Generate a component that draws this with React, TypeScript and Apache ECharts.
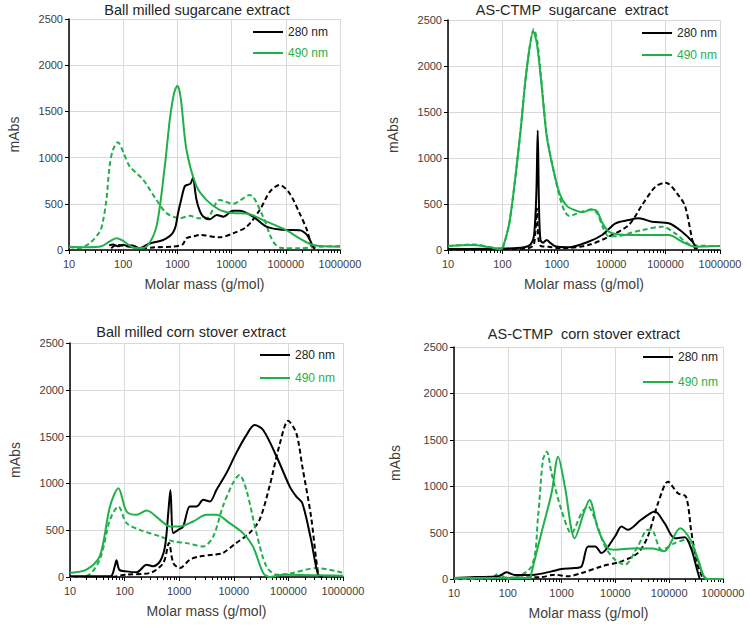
import React, { useEffect, useRef } from 'react';
import * as echarts from 'echarts';

const FONT = '"Liberation Sans", Arial, sans-serif';
const GREEN = '#1fb04b';
const BLACK = '#000000';
const TICK_COLOR = '#404040';
const GRID_COLOR = '#d9d9d9';

const panelTitles = [
  'Ball milled sugarcane extract',
  'AS-CTMP  sugarcane  extract',
  'Ball milled corn stover extract',
  'AS-CTMP  corn stover extract',
];
const legendNames = ['280 nm', '490 nm'];
const xMin = 10;
const xMax = 1000000;
const yMin = 0;
const yMax = 2500;
const yStep = 500;
const xName = 'Molar mass (g/mol)';
const yName = 'mAbs';

// Panel 1: Ball milled sugarcane extract  ([molar mass, mAbs])
const bmSc280Solid = [[55, 50], [65, 60], [80, 40], [100, 58], [114, 45], [150, 50], [200, 18], [250, 45], [310, 70], [545, 108], [720, 150], [830, 190], [930, 260], [1030, 400], [1190, 560], [1370, 690], [1570, 707], [1750, 720], [1950, 785], [2100, 660], [2250, 543], [2600, 420], [3000, 361], [3950, 332], [5300, 380], [7000, 361], [10600, 426], [14000, 426], [25000, 361], [44000, 253], [100000, 217], [180000, 215], [245000, 163], [320000, 36], [340000, 8]];
const bmSc280Dash = [[60, 20], [75, 54], [130, 36], [200, 18], [400, 30], [830, 36], [1250, 60], [1460, 127], [2100, 152], [2600, 163], [6000, 137], [10600, 180], [19000, 253], [33000, 433], [51000, 632], [77000, 705], [117000, 614], [180000, 397], [245000, 217], [300000, 36], [320000, 5]];
const bmSc490Solid = [[10, 35], [20, 30], [40, 40], [55, 90], [75, 128], [100, 100], [152, 25], [200, 20], [270, 36], [410, 253], [585, 905], [725, 1413], [870, 1700], [1000, 1777], [1150, 1650], [1470, 1085], [2250, 690], [3450, 540], [6000, 435], [10600, 400], [19000, 395], [44000, 307], [100000, 217], [180000, 126], [320000, 54], [1000000, 36]];
const bmSc490Dash = [[10, 35], [15, 20], [24, 72], [37, 199], [42, 300], [49, 543], [56, 905], [65, 1087], [80, 1166], [100, 1060], [132, 905], [233, 761], [410, 543], [630, 399], [1110, 344], [1700, 370], [2400, 344], [3450, 343], [6000, 542], [10600, 500], [21500, 596], [38000, 361], [52000, 150], [62000, 70], [80000, 25], [180000, 18], [440000, 36], [1000000, 43]];

// Panel 2: AS-CTMP sugarcane extract
const asSc280Solid = [[10, 10], [100, 15], [250, 30], [330, 60], [380, 150], [420, 600], [446, 1300], [470, 500], [500, 110], [560, 80], [650, 110], [750, 80], [935, 40], [1650, 30], [3800, 90], [6800, 163], [12000, 290], [21000, 326], [32000, 344], [56000, 308], [115000, 290], [200000, 199], [310000, 90], [380000, 7]];
const asSc280Dash = [[10, 5], [100, 10], [300, 20], [380, 60], [430, 450], [460, 120], [520, 40], [700, 36], [1240, 18], [3800, 54], [9000, 145], [21000, 272], [37000, 489], [65000, 688], [100000, 732], [180000, 580], [230000, 471], [310000, 108], [350000, 7]];
const asSc490Solid = [[10, 43], [30, 54], [60, 29], [90, 7], [103, 36], [137, 326], [210, 1232], [279, 1957], [371, 2373], [430, 2246], [528, 1775], [654, 1232], [867, 870], [1150, 600], [1530, 480], [2200, 430], [3000, 410], [4300, 440], [5500, 420], [6800, 300], [9000, 200], [12000, 175], [21000, 163], [115000, 163], [200000, 90], [350000, 36], [1000000, 43]];
const asSc490Dash = [[10, 43], [30, 60], [60, 29], [90, 7], [103, 36], [137, 326], [210, 1232], [279, 1957], [380, 2400], [440, 2260], [528, 1800], [654, 1250], [867, 870], [1150, 560], [1400, 420], [1700, 370], [2200, 390], [3000, 420], [4300, 440], [5500, 400], [7000, 250], [9000, 150], [13000, 150], [21000, 181], [37000, 217], [88000, 253], [150000, 181], [300000, 54], [1000000, 43]];

// Panel 3: Ball milled corn stover extract
const bmCs280Solid = [[10, 7], [55, 7], [66, 114], [71, 178], [80, 78], [109, 60], [166, 50], [253, 131], [334, 114], [445, 167], [550, 327], [630, 682], [690, 930], [780, 469], [960, 504], [1180, 540], [1570, 753], [2080, 753], [2760, 824], [3650, 806], [4800, 930], [7300, 1108], [11000, 1321], [17000, 1516], [24000, 1623], [34500, 1570], [61000, 1285], [106000, 966], [140000, 859], [180000, 788], [260000, 398], [350000, 25], [430000, 0]];
const bmCs280Dash = [[60, 0], [109, 25], [290, 43], [510, 149], [650, 362], [780, 149], [1030, 96], [1570, 185], [2380, 220], [4200, 238], [6300, 256], [11000, 362], [19300, 469], [29600, 611], [45000, 966], [70000, 1428], [99000, 1669], [140000, 1534], [180000, 1179], [260000, 646], [350000, 43], [400000, 0]];
const bmCs490Solid = [[10, 43], [20, 78], [35, 220], [54, 753], [77, 948], [109, 700], [166, 664], [253, 710], [445, 611], [670, 540], [1030, 540], [1800, 593], [3150, 664], [4800, 664], [8400, 575], [14700, 469], [22400, 327], [34500, 43], [45000, 0], [80000, 25], [1000000, 14]];
const bmCs490Dash = [[10, 0], [20, 10], [35, 185], [54, 611], [77, 753], [109, 575], [190, 504], [445, 433], [780, 380], [1370, 362], [2760, 327], [4200, 433], [6300, 753], [9600, 1001], [12700, 1090], [17000, 930], [26000, 469], [39500, 114], [61000, 25], [106000, 36], [330000, 96], [1000000, 43]];

// Panel 4: AS-CTMP corn stover extract
const asCs280Solid = [[10, 11], [25, 21], [66, 29], [95, 72], [135, 43], [320, 47], [650, 82], [990, 107], [1750, 118], [2350, 136], [3100, 351], [4200, 351], [5500, 279], [9800, 458], [13000, 566], [17000, 530], [30000, 638], [54000, 727], [82000, 602], [127000, 440], [195000, 451], [260000, 315], [330000, 100], [370000, 0]];
const asCs280Dash = [[10, 10], [420, 20], [740, 47], [1300, 29], [2350, 64], [5500, 136], [13000, 190], [26000, 279], [40000, 458], [62000, 817], [95000, 1049], [145000, 924], [205000, 888], [260000, 494], [330000, 172], [425000, 0]];
const asCs490Solid = [[10, 11], [100, 10], [260, 10], [275, 64], [420, 494], [650, 924], [860, 1318], [1150, 996], [1750, 440], [2700, 745], [3300, 852], [4800, 530], [7400, 330], [10000, 315], [20000, 330], [50000, 330], [80000, 300], [160000, 548], [250000, 420], [350000, 200], [500000, 0], [1000000, 0]];
const asCs490Dash = [[10, 0], [50, 5], [66, 57], [100, 0], [275, 136], [365, 673], [450, 1282], [530, 1372], [650, 1139], [990, 745], [1520, 494], [2350, 709], [3100, 781], [4200, 638], [6400, 351], [9800, 208], [15000, 154], [26000, 351], [40000, 530], [47000, 530], [72000, 315], [127000, 387], [205000, 423], [300000, 279], [425000, 47], [520000, 0], [1000000, 0]];

const panels = [
  { s280: bmSc280Solid, d280: bmSc280Dash, s490: bmSc490Solid, d490: bmSc490Dash },
  { s280: asSc280Solid, d280: asSc280Dash, s490: asSc490Solid, d490: asSc490Dash },
  { s280: bmCs280Solid, d280: bmCs280Dash, s490: bmCs490Solid, d490: bmCs490Dash },
  { s280: asCs280Solid, d280: asCs280Dash, s490: asCs490Solid, d490: asCs490Dash },
];

// layout (pixels)
const grids = [
  { left: 69, top: 19, width: 271, height: 231 },
  { left: 448, top: 20, width: 272, height: 230 },
  { left: 70, top: 343, width: 273, height: 234 },
  { left: 454, top: 347, width: 269, height: 232 },
];
const legendPos = [
  { left: 253, top: 25, itemGap: 7 },
  { left: 642, top: 26, itemGap: 8 },
  { left: 260, top: 348, itemGap: 9 },
  { left: 643, top: 350, itemGap: 11 },
];
const titlePos = [
  { x: 197, y: 10 },
  { x: 572, y: 10 },
  { x: 191, y: 332 },
  { x: 584, y: 334 },
];
const yNameGaps = [48, 48, 48, 52];

export default function App() {
  const ref = useRef<HTMLDivElement>(null);
  useEffect(() => {
    if (!ref.current) return;
    const chart = echarts.init(ref.current, null, { renderer: 'svg' });
    const xAxes: any[] = [];
    const yAxes: any[] = [];
    const series: any[] = [];
    grids.forEach((_, i) => {
      xAxes.push({
        type: 'log',
        logBase: 10,
        gridIndex: i,
        min: xMin,
        max: xMax,
        name: xName,
        nameLocation: 'middle',
        nameGap: 27,
        nameTextStyle: { fontFamily: FONT, fontSize: 14, color: TICK_COLOR },
        axisLine: { show: true, onZero: false, lineStyle: { color: BLACK, width: 1.5 } },
        axisTick: { show: true, length: 4, lineStyle: { color: BLACK } },
        minorTick: { show: true, splitNumber: 9, length: 3, lineStyle: { color: BLACK } },
        axisLabel: {
          fontFamily: FONT,
          fontSize: 11,
          color: TICK_COLOR,
          margin: 8,
          formatter: (v: number) => String(Math.round(v)),
        },
        splitLine: { show: true, lineStyle: { color: GRID_COLOR, width: 1 } },
      });
      yAxes.push({
        type: 'value',
        gridIndex: i,
        min: yMin,
        max: yMax,
        interval: yStep,
        name: yName,
        nameLocation: 'middle',
        nameGap: yNameGaps[i],
        nameTextStyle: { fontFamily: FONT, fontSize: 14, color: TICK_COLOR },
        axisLine: { show: true, lineStyle: { color: BLACK, width: 1.5 } },
        axisTick: { show: true, length: 4, lineStyle: { color: BLACK } },
        axisLabel: {
          fontFamily: FONT,
          fontSize: 11,
          color: TICK_COLOR,
          margin: 6,
          formatter: (v: number) => String(v),
        },
        splitLine: { show: true, lineStyle: { color: GRID_COLOR, width: 1 } },
      });
    });
    panels.forEach((p, i) => {
      const base = { type: 'line', xAxisIndex: i, yAxisIndex: i, symbol: 'none', smooth: 0.3, z: 3 };
      series.push({ ...base, name: '280 nm dashed', data: p.d280, lineStyle: { color: BLACK, width: 2, type: [5, 3] }, itemStyle: { color: BLACK } });
      series.push({ ...base, name: '490 nm dashed', data: p.d490, lineStyle: { color: GREEN, width: 2, type: [5, 3] }, itemStyle: { color: GREEN } });
      series.push({ ...base, name: legendNames[0], data: p.s280, lineStyle: { color: BLACK, width: 2 }, itemStyle: { color: BLACK } });
      series.push({ ...base, name: legendNames[1], data: p.s490, lineStyle: { color: GREEN, width: 2 }, itemStyle: { color: GREEN } });
    });
    const legends = legendPos.map((lp) => ({
      left: lp.left,
      top: lp.top,
      padding: 0,
      orient: 'vertical',
      itemGap: lp.itemGap,
      itemWidth: 30,
      itemHeight: 2,
      icon: 'rect',
      selectedMode: false,
      textStyle: { fontFamily: FONT, fontSize: 12, lineHeight: 14 },
      data: [
        { name: legendNames[0], textStyle: { color: '#262626' } },
        { name: legendNames[1], textStyle: { color: GREEN } },
      ],
    }));
    const graphics = titlePos.map((t, i) => ({
      type: 'text',
      x: t.x,
      y: t.y,
      style: {
        text: panelTitles[i],
        font: `14.5px ${FONT}`,
        fill: '#262626',
        align: 'center',
        verticalAlign: 'middle',
        textAlign: 'center',
        textVerticalAlign: 'middle',
      },
    }));
    chart.setOption({
      animation: false,
      backgroundColor: '#ffffff',
      grid: grids.map((g) => ({ ...g, containLabel: false })),
      xAxis: xAxes,
      yAxis: yAxes,
      legend: legends,
      graphic: graphics,
      series,
    });
    return () => chart.dispose();
  }, []);
  return (
    <div
      ref={ref}
      style={{ position: 'absolute', left: 0, top: 0, width: 750, height: 625 }}
    />
  );
}
